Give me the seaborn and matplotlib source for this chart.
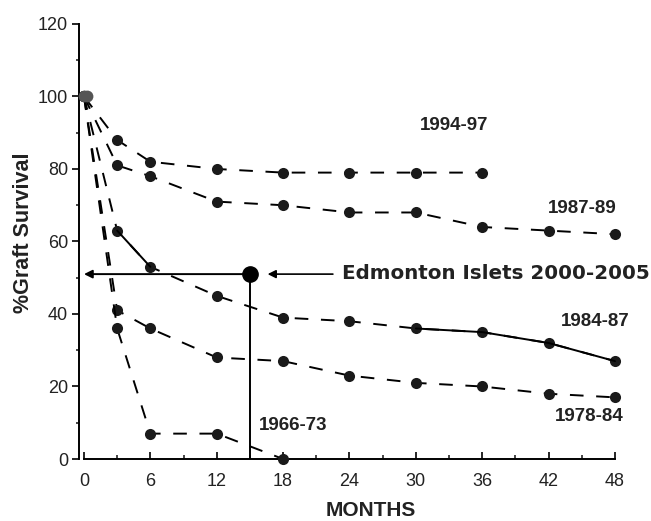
import matplotlib
matplotlib.use("Agg")
import matplotlib.pyplot as plt
import seaborn as sns
import pandas as pd

months = [0, 3, 6, 12, 18, 24, 30, 36, 42, 48]

s_1994_97 = [100, 88, 82, 80, 79, 79, 79, 79]
s_1987_89 = [100, 81, 78, 71, 70, 68, 68, 64, 63, 62]
s_1984_87 = [100, 63, 53, 45, 39, 38, 36, 35, 32, 27]
s_1978_84 = [100, 41, 36, 28, 27, 23, 21, 20, 18, 17]
s_1966_73 = [100, 36, 7, 7, 0]

series_labels = ["1994-97", "1987-89", "1984-87", "1978-84", "1966-73"]
edmonton_month = 15
edmonton_survival = 51

sns.set_style("ticks")
plt.rcParams["font.family"] = ["Liberation Sans", "DejaVu Sans"]

fig = plt.figure(figsize=(6.51, 5.21), dpi=100)
ax = fig.add_axes([0.129, 0.119, 0.8157, 0.835])

all_series = [s_1994_97, s_1987_89, s_1984_87, s_1978_84, s_1966_73]
for vals in all_series:
    df = pd.DataFrame({"month": months[:len(vals)], "survival": vals})
    sns.lineplot(data=df, x="month", y="survival", ax=ax, color="black",
                 linewidth=1.4, marker="o", markersize=8,
                 markeredgewidth=0, markerfacecolor="#1a1a1a", zorder=3,
                 clip_on=False)
    ax.lines[-1].set_linestyle((0, (7, 6.5)))

# solid portions of the 1984-87 curve
for lo, hi in [(1, 3), (6, 10)]:
    df = pd.DataFrame({"month": months[lo:hi], "survival": s_1984_87[lo:hi]})
    sns.lineplot(data=df, x="month", y="survival", ax=ax, color="black",
                 linewidth=1.4, zorder=3, clip_on=False)

# overlapping starting points look gray
ax.plot([0, 0.3], [100, 100], "o", color="#555555", markersize=8.5,
        markeredgewidth=0, zorder=4, clip_on=False)

# Edmonton marker with guide lines
ax.plot([edmonton_month, edmonton_month], [0, edmonton_survival], color="black", lw=1.4, zorder=2)
ax.annotate("", xy=(0, edmonton_survival), xytext=(edmonton_month, edmonton_survival),
            arrowprops=dict(arrowstyle="-|>", color="black", lw=1.4,
                            mutation_scale=12, shrinkA=0, shrinkB=0), zorder=2)
ax.plot([edmonton_month], [edmonton_survival], "o", color="black", markersize=11, zorder=5)
ax.annotate("", xy=(16.6, edmonton_survival), xytext=(22.5, edmonton_survival),
            arrowprops=dict(arrowstyle="-|>", color="black", lw=1.2,
                            mutation_scale=12, shrinkA=0, shrinkB=0))
ax.text(23.3, edmonton_survival + 0.3, "Edmonton Islets 2000-2005", va="center", ha="left",
        fontsize=14.3, fontweight="bold", color="#222222", family=["DejaVu Sans"])

# series labels
lab_kw = dict(fontsize=13.5, fontweight="bold", color="#222222", ha="center", va="center")
ax.text(33.5, 92, series_labels[0], **lab_kw)
ax.text(45.0, 69, series_labels[1], **lab_kw)
ax.text(46.2, 38, series_labels[2], **lab_kw)
ax.text(45.7, 11.6, series_labels[3], **lab_kw)
ax.text(18.9, 9.2, series_labels[4], **lab_kw)

ax.set_xlim(0, 48)
ax.set_ylim(0, 120)
ax.set_xticks(range(0, 49, 6))
ax.set_xticks(range(3, 48, 6), minor=True)
ax.set_yticks(range(0, 121, 20))
ax.set_yticks(range(10, 120, 20), minor=True)
ax.tick_params(axis="both", which="major", labelsize=13, width=1.2,
               color="black", labelcolor="#222222")
ax.tick_params(axis="x", which="major", direction="in", length=5, pad=10)
ax.tick_params(axis="x", which="minor", direction="in", length=3, width=1.2)
ax.tick_params(axis="y", which="major", direction="out", length=5, pad=3)
ax.tick_params(axis="y", which="minor", direction="out", length=2.5, width=1.2)
ax.set_xlabel("MONTHS", fontsize=15, fontweight="bold", color="#222222")
ax.xaxis.set_label_coords(0.54, -0.097)
ax.set_ylabel("%Graft Survival", fontsize=15.5, fontweight="bold", color="#222222")
ax.yaxis.set_label_coords(-0.095, 0.52)

sns.despine(ax=ax)
ax.spines["left"].set_position(("outward", 3.5))
for sp in ["left", "bottom"]:
    ax.spines[sp].set_linewidth(1.4)
    ax.spines[sp].set_color("black")

fig.savefig("out.png", dpi=100)
